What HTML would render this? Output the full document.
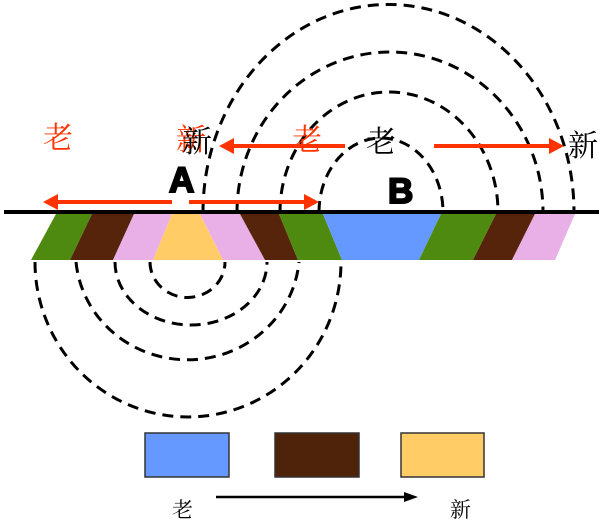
<!DOCTYPE html>
<html><head><meta charset="utf-8"><style>
html,body{margin:0;padding:0;background:#fff;}
svg{display:block;}
</style></head><body>
<svg width="607" height="526" viewBox="0 0 607 526" xmlns="http://www.w3.org/2000/svg">
<g stroke="none">
<polygon points="56,214 92,214 70,260 31,260" fill="#4f8a10"/>
<polygon points="92,214 134,214 113,260 70,260" fill="#55240a"/>
<polygon points="134,214 172,214 153,260 113,260" fill="#e8b0e6"/>
<polygon points="172,214 200,214 223,260 153,260" fill="#ffcc66"/>
<polygon points="200,214 240,214 265,260 223,260" fill="#e8b0e6"/>
<polygon points="240,214 279,214 298,260 265,260" fill="#55240a"/>
<polygon points="279,214 323,214 342,260 298,260" fill="#4f8a10"/>
<polygon points="323,214 441,214 419,260 342,260" fill="#6699ff"/>
<polygon points="441,214 496,214 473,260 419,260" fill="#4f8a10"/>
<polygon points="496,214 535,214 512,260 473,260" fill="#55240a"/>
<polygon points="535,214 575,214 555,260 512,260" fill="#e8b0e6"/>
</g>
<line x1="4" y1="212" x2="599" y2="212" stroke="#000" stroke-width="4"/>
<g fill="none" stroke="#000" stroke-width="3" stroke-dasharray="11,7">
<path d="M35,262 A153,155 0 0 0 341,262"/>
<path d="M76,262 A112,108 0 0 0 299,262"/>
<path d="M115,262 A76,63 0 0 0 267,262"/>
<path d="M150,262 A37,35 0 0 0 225,262"/>
<path d="M203,212 A185,207 0 0 1 574,212"/>
<path d="M237,212 A153,160 0 0 1 543,212"/>
<path d="M280,212 A109,120 0 0 1 498,212"/>
<path d="M319,212 A62,74 0 0 1 443,212"/>
</g>
<g stroke="#ff3300" stroke-width="4" fill="#ff3300">
<line x1="345" y1="146" x2="230" y2="146"/>
<polygon points="219,146 234,138 234,154" stroke="none"/>
<line x1="434" y1="146" x2="552" y2="146"/>
<polygon points="564,146 549,138 549,154" stroke="none"/>
<line x1="172" y1="202" x2="55" y2="202"/>
<polygon points="43,202 58,194 58,210" stroke="none"/>
<line x1="189" y1="202" x2="306" y2="202"/>
<polygon points="319,202 304,194 304,210" stroke="none"/>
</g>
<g font-family="Liberation Serif, 'Noto Serif CJK SC', 'Noto Sans CJK SC', serif" font-size="30">
<text x="43" y="148" fill="#ff3300">老</text>
<text x="176" y="150" fill="#ff3300">新</text>
<text x="182" y="152" fill="#000">新</text>
<text x="292" y="150" fill="#ff3300">老</text>
<text x="366" y="152" fill="#000">老</text>
<text x="568" y="156" fill="#000">新</text>
</g>
<g font-family="Liberation Sans, sans-serif" font-weight="bold" font-size="35" stroke="#000" stroke-width="2">
<text x="169" y="192">A</text>
<text x="388" y="203">B</text>
</g>
<rect x="145" y="433" width="84" height="44" fill="#6699ff" stroke="#333" stroke-width="1.5"/>
<rect x="275" y="433" width="84" height="44" fill="#4f230a" stroke="#333" stroke-width="1.5"/>
<rect x="401" y="433" width="83" height="44" fill="#ffcc66" stroke="#333" stroke-width="1.5"/>
<line x1="216" y1="497" x2="406" y2="497" stroke="#000" stroke-width="2.5"/>
<polygon points="418,497 404,492 404,502" fill="#000"/>
<g font-family="Liberation Serif, 'Noto Serif CJK SC', serif" font-size="21" fill="#000">
<text x="172" y="517">老</text>
<text x="450" y="517">新</text>
</g>
</svg>
</body></html>
